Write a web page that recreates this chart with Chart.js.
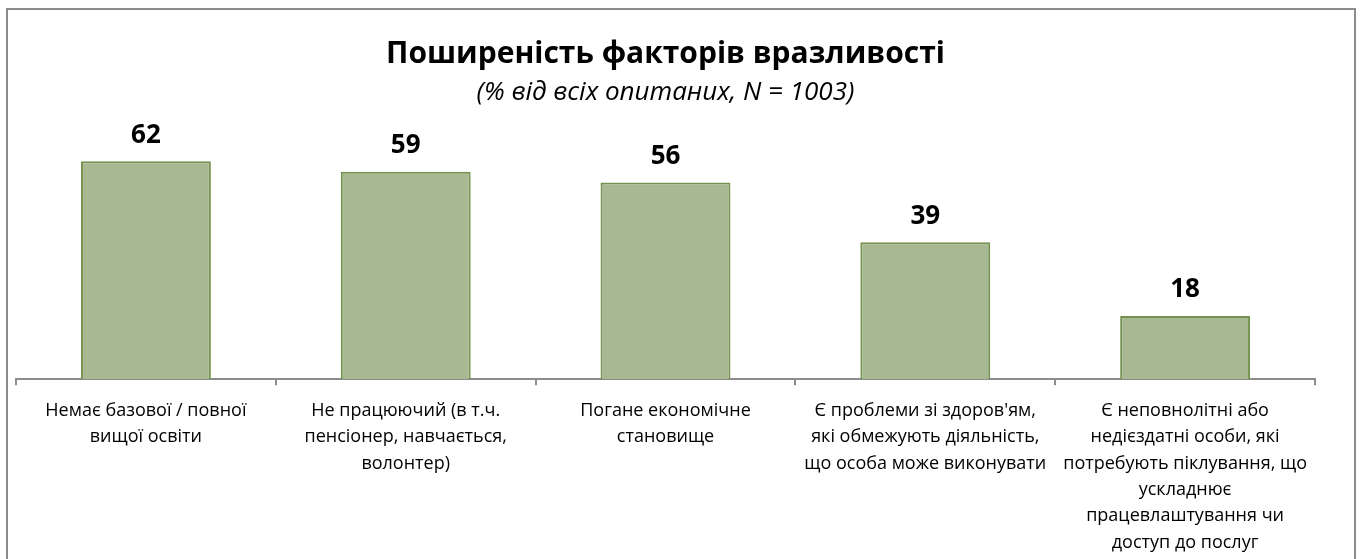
<!DOCTYPE html>
<html>
<head>
<meta charset="utf-8">
<script src="https://cdn.jsdelivr.net/npm/chart.js@4"></script>
<style>
html,body{margin:0;padding:0;background:#fff;}
#wrap{width:1361px;height:559px;position:relative;}
</style>
</head>
<body>
<div id="wrap"><canvas id="c" width="1361" height="559"></canvas></div>
<script>
const categories = [
  ["Немає базової / повної", "вищої освіти"],
  ["Не працюючий (в т.ч.", "пенсіонер, навчається,", "волонтер)"],
  ["Погане економічне", "становище"],
  ["Є проблеми зі здоров'ям,", "які обмежують діяльність,", "що особа може виконувати"],
  ["Є неповнолітні або", "недієздатні особи, які", "потребують піклування, що", "ускладнює", "працевлаштування чи", "доступ до послуг"]
];
const values = [62, 59, 56, 39, 18];
const titleText = "Поширеність факторів вразливості";
const subtitleText = "(% від всіх опитаних, N = 1003)";

const FONT = "'Open Sans', 'Noto Sans', sans-serif";

const frame = {
  id: 'frame',
  beforeDraw(chart) {
    const ctx = chart.ctx;
    ctx.save();
    ctx.fillStyle = '#fff';
    ctx.fillRect(0, 0, chart.width, chart.height);
    ctx.strokeStyle = '#8c8c8c';
    ctx.lineWidth = 2;
    ctx.beginPath();
    ctx.moveTo(7, 575);
    ctx.lineTo(7, 9);
    ctx.lineTo(1355, 9);
    ctx.lineTo(1355, 575);
    ctx.stroke();
    ctx.restore();
  }
};

const valueLabels = {
  id: 'valueLabels',
  afterDatasetsDraw(chart) {
    const ctx = chart.ctx;
    const meta = chart.getDatasetMeta(0);
    ctx.save();
    ctx.font = "bold 26px " + FONT;
    ctx.fillStyle = '#000';
    ctx.textAlign = 'center';
    ctx.textBaseline = 'bottom';
    meta.data.forEach((bar, i) => {
      ctx.fillText(String(values[i]), bar.x, bar.y - 13);
    });
    ctx.restore();
  }
};

new Chart(document.getElementById('c'), {
  type: 'bar',
  data: {
    labels: categories,
    datasets: [{
      data: values,
      backgroundColor: '#A7B893',
      borderColor: '#76924F',
      borderWidth: 2,
      categoryPercentage: 1,
      barPercentage: 0.5
    }]
  },
  options: {
    responsive: false,
    animation: false,
    devicePixelRatio: 1,
    layout: { padding: { left: 16, right: 46, top: 0, bottom: -9 } },
    plugins: {
      legend: { display: false },
      tooltip: { enabled: false },
      title: {
        display: true,
        text: titleText,
        color: '#000',
        font: { family: FONT, size: 30, weight: 'bold', lineHeight: 1.2 },
        padding: { top: 36, bottom: 3 }
      },
      subtitle: {
        display: true,
        text: subtitleText,
        color: '#000',
        font: { family: FONT, size: 26, style: 'italic', lineHeight: 1.2 },
        padding: { top: 2, bottom: 25 }
      }
    },
    scales: {
      x: {
        offset: true,
        grid: {
          offset: true,
          drawOnChartArea: false,
          drawTicks: true,
          tickLength: 6,
          color: '#8c8c8c',
          lineWidth: 2
        },
        border: { display: true, color: '#8c8c8c', width: 2 },
        ticks: {
          color: '#000',
          font: { family: FONT, size: 18, lineHeight: 1.47 },
          padding: 12,
          maxRotation: 0,
          autoSkip: false
        }
      },
      y: {
        display: false,
        min: 0,
        max: 70
      }
    }
  },
  plugins: [frame, valueLabels]
});
</script>
</body>
</html>
